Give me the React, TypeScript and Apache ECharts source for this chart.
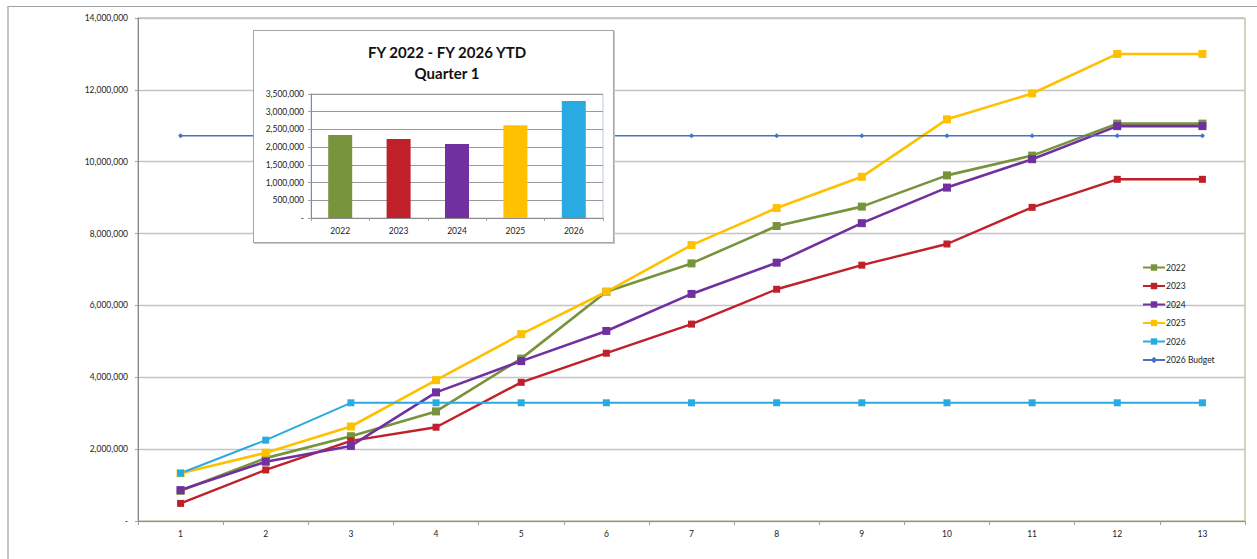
import React, { useEffect, useRef } from "react";
import * as echarts from "echarts";

const categories = ["1", "2", "3", "4", "5", "6", "7", "8", "9", "10", "11", "12", "13"];
const fy2022 = [840000, 1750000, 2360000, 3050000, 4520000, 6380000, 7170000, 8210000, 8750000, 9620000, 10170000, 11060000, 11060000];
const fy2023 = [490000, 1420000, 2230000, 2610000, 3860000, 4670000, 5480000, 6450000, 7120000, 7710000, 8730000, 9510000, 9510000];
const fy2024 = [860000, 1650000, 2090000, 3580000, 4450000, 5290000, 6320000, 7190000, 8290000, 9280000, 10070000, 10990000, 10990000];
const fy2025 = [1330000, 1900000, 2630000, 3920000, 5200000, 6380000, 7680000, 8710000, 9580000, 11180000, 11900000, 13000000, 13000000];
const fy2026 = [1330000, 2250000, 3290000, 3290000, 3290000, 3290000, 3290000, 3290000, 3290000, 3290000, 3290000, 3290000, 3290000];
const budget2026 = [10720000, 10720000, 10720000, 10720000, 10720000, 10720000, 10720000, 10720000, 10720000, 10720000, 10720000, 10720000, 10720000];

const insetYears = ["2022", "2023", "2024", "2025", "2026"];
const insetQ1 = [2340000, 2230000, 2090000, 2620000, 3300000];
const insetTitle = "FY 2022 - FY 2026 YTD\nQuarter 1";

const COLORS = {
  g: "#77933c",
  r: "#c0202a",
  p: "#7030a0",
  y: "#ffc000",
  c: "#29abe2",
  b: "#4472c4",
};
const insetColors = [COLORS.g, COLORS.r, COLORS.p, COLORS.y, COLORS.c];

const FONT = "Lato";
const fmt = (v: number) => (v === 0 ? "-" : v.toLocaleString("en-US"));

export default function App() {
  const mainRef = useRef<HTMLDivElement>(null);
  const insetRef = useRef<HTMLDivElement>(null);

  useEffect(() => {
    document.body.style.margin = "0";
    const main = echarts.init(mainRef.current!, undefined, { renderer: "svg" });
    const lineSeries = (name: string, data: number[], color: string, width: number, size: number, symbol = "rect") => ({
      name,
      type: "line",
      data,
      symbol,
      symbolSize: size,
      showSymbol: true,
      lineStyle: { color, width },
      itemStyle: { color, borderWidth: 0 },
      emphasis: { disabled: true },
    });
    main.setOption({
      animation: false,
      textStyle: { fontFamily: FONT },
      grid: {
        left: 138,
        right: 12,
        top: 18,
        bottom: 38,
        show: true,
        borderColor: "#9bb36b",
        borderWidth: 1,
      },
      legend: {
        orient: "vertical",
        left: 1142,
        top: 263,
        padding: 0,
        itemWidth: 22,
        itemHeight: 8,
        itemGap: 9.5,
        textStyle: { fontSize: 8.5, color: "#222", fontFamily: FONT, padding: [0, 0, 0, -4] },
        data: ["2022", "2023", "2024", "2025", "2026", "2026 Budget"],
      },
      xAxis: {
        type: "category",
        data: categories,
        boundaryGap: true,
        axisLine: { lineStyle: { color: "#8c9a72", width: 1 } },
        axisTick: { show: true, length: 4, lineStyle: { color: "#a0a0a0" } },
        axisLabel: { fontSize: 8.5, color: "#222", margin: 8, fontFamily: FONT },
        splitLine: { show: false },
      },
      yAxis: {
        type: "value",
        min: 0,
        max: 14000000,
        interval: 2000000,
        axisLine: { show: true, lineStyle: { color: "#8a8a8a", width: 1 } },
        axisTick: { show: true, length: 3, lineStyle: { color: "#a0a0a0" } },
        axisLabel: { fontSize: 8.5, color: "#222", margin: 10, fontFamily: FONT, formatter: fmt },
        splitLine: { show: true, lineStyle: { color: "#c4c4c4", width: 1.3 } },
      },
      series: [
        lineSeries("2022", fy2022, COLORS.g, 2.6, 8),
        lineSeries("2023", fy2023, COLORS.r, 2.4, 7),
        lineSeries("2024", fy2024, COLORS.p, 2.6, 8),
        lineSeries("2025", fy2025, COLORS.y, 2.6, 8),
        lineSeries("2026", fy2026, COLORS.c, 2, 7),
        lineSeries("2026 Budget", budget2026, COLORS.b, 1.5, 5, "diamond"),
      ],
    });

    const inset = echarts.init(insetRef.current!, undefined, { renderer: "svg" });
    inset.setOption({
      animation: false,
      textStyle: { fontFamily: FONT },
      grid: {
        left: 57,
        right: 10,
        top: 63,
        bottom: 24,
        show: true,
        borderColor: "#b8cce4",
        borderWidth: 1,
      },
      graphic: [
        {
          type: "text",
          x: 193,
          y: 10,
          style: {
            text: insetTitle,
            align: "center",
            verticalAlign: "top",
            fontSize: 15,
            fontWeight: "bold",
            fontFamily: FONT,
            lineHeight: 21,
            fill: "#111",
          },
        },
      ],
      xAxis: {
        type: "category",
        data: insetYears,
        axisLine: { lineStyle: { color: "#8a8a8a" } },
        axisTick: { show: true, length: 3, lineStyle: { color: "#a0a0a0" } },
        axisLabel: { fontSize: 8.5, color: "#222", margin: 8, fontFamily: FONT },
      },
      yAxis: {
        type: "value",
        min: 0,
        max: 3500000,
        interval: 500000,
        axisLine: { show: true, lineStyle: { color: "#8a8a8a" } },
        axisTick: { show: true, length: 3, lineStyle: { color: "#a0a0a0" } },
        axisLabel: { fontSize: 8.5, color: "#222", margin: 7, fontFamily: FONT, formatter: fmt },
        splitLine: { show: true, lineStyle: { color: "#9a9a9a", width: 1.2 } },
      },
      series: [
        {
          type: "bar",
          barWidth: 24,
          data: insetQ1.map((v, i) => ({ value: v, itemStyle: { color: insetColors[i] } })),
          emphasis: { disabled: true },
        },
      ],
    });

    return () => {
      main.dispose();
      inset.dispose();
    };
  }, []);

  return (
    <div style={{ position: "fixed", left: 0, top: 0, width: 1257, height: 559, background: "#fff", overflow: "hidden" }}>
      <div
        style={{
          position: "absolute",
          left: 7,
          top: 6,
          width: 1300,
          height: 600,
          borderLeft: "2px solid #c4c4c4",
          borderTop: "1px solid #a0a0a0",
        }}
      />
      <div ref={mainRef} style={{ position: "absolute", left: 0, top: 0, width: 1257, height: 559 }} />
      <div
        style={{
          position: "absolute",
          left: 253,
          top: 30,
          width: 359,
          height: 211,
          background: "#fff",
          border: "1px solid #a6a6a6",
          boxShadow: "1px 1px 0px #c8c8c8",
        }}
      >
        <div ref={insetRef} style={{ width: 359, height: 211 }} />
      </div>
    </div>
  );
}
